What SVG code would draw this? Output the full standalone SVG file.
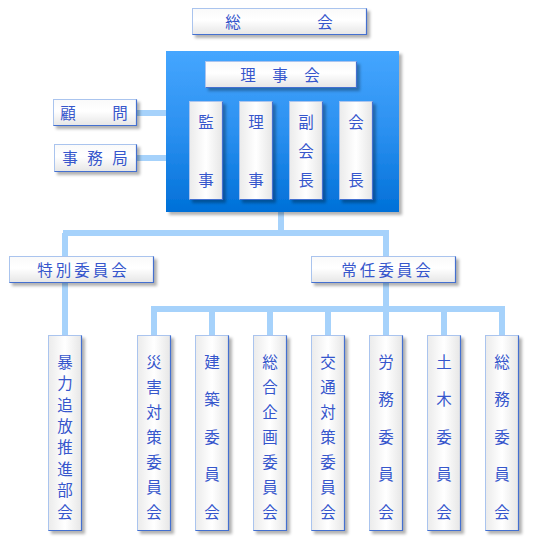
<svg xmlns="http://www.w3.org/2000/svg" width="540" height="540" viewBox="0 0 540 540">
<style>
.bx{fill:url(#gh);stroke:#aac4ee;stroke-width:1}
.bv{fill:url(#gv);stroke:#aac4ee;stroke-width:1}
.ed{fill:none;stroke:#4470d0;stroke-width:1.2}
.t{font-family:"Noto Sans CJK JP","Noto Sans",sans-serif;font-size:15.5px;fill:#3656cc}
.tc{text-anchor:middle}
.ln{fill:none;stroke:#a6d2fb;stroke-width:6}
</style>
<defs>
<linearGradient id="gh" x1="0" y1="0" x2="0" y2="1">
<stop offset="0" stop-color="#fafafa"/>
<stop offset="0.45" stop-color="#ffffff"/>
<stop offset="1" stop-color="#e6e6e6"/>
</linearGradient>
<linearGradient id="gv" x1="0" y1="0" x2="1" y2="0">
<stop offset="0" stop-color="#ebebeb"/>
<stop offset="0.5" stop-color="#ffffff"/>
<stop offset="1" stop-color="#e6e6e6"/>
</linearGradient>
<linearGradient id="gb" x1="0" y1="0" x2="0" y2="1">
<stop offset="0" stop-color="#45a6ff"/>
<stop offset="0.5" stop-color="#2b90f0"/>
<stop offset="1" stop-color="#0070d8"/>
</linearGradient>
<filter id="sh" x="-20%" y="-20%" width="150%" height="150%">
<feDropShadow dx="3" dy="3" stdDeviation="1.8" flood-color="#000" flood-opacity="0.3"/>
</filter>
</defs>

<g id="connectors">
<path class="ln" d="M137 113H170M137 158H170"/>
<path class="ln" d="M281 210V233M63 233H389M65 233V336M386 233V309M151 309H505M154 309V336M212 309V336M270 309V336M328 309V336M386 309V336M444 309V336M502 309V336"/>
</g>

<g id="soukai">
<rect class="bx" x="192.5" y="8.5" width="174" height="26" filter="url(#sh)"/>
<path class="ed" d="M366.5 8.5V34.5H192.5"/>
<text class="t tc" y="27.5"><tspan x="233">総</tspan><tspan x="325">会</tspan></text>
</g>

<g id="rijikai-panel">
<rect x="166" y="51" width="233" height="161" fill="url(#gb)" filter="url(#sh)"/>
</g>

<g id="rijikai">
<rect class="bx" x="205.5" y="61.5" width="151" height="26" filter="url(#sh)"/>
<path class="ed" d="M356.5 61.5V87.5H205.5"/>
<text class="t tc" y="80.5"><tspan x="248">理</tspan><tspan x="280">事</tspan><tspan x="312">会</tspan></text>
</g>

<g id="kanji">
<rect class="bv" x="189.5" y="101.5" width="33" height="98" filter="url(#sh)"/>
<path class="ed" d="M222.5 101.5V199.5H189.5"/>
<text class="t tc" x="206"><tspan y="127.5">監</tspan><tspan x="206" y="185.5">事</tspan></text>
</g>
<g id="riji">
<rect class="bv" x="239.5" y="101.5" width="33" height="98" filter="url(#sh)"/>
<path class="ed" d="M272.5 101.5V199.5H239.5"/>
<text class="t tc" x="256"><tspan y="127.5">理</tspan><tspan x="256" y="185.5">事</tspan></text>
</g>
<g id="fukukaicho">
<rect class="bv" x="289.5" y="101.5" width="33" height="98" filter="url(#sh)"/>
<path class="ed" d="M322.5 101.5V199.5H289.5"/>
<text class="t tc" x="306"><tspan y="127.5">副</tspan><tspan x="306" y="157">会</tspan><tspan x="306" y="185.5">長</tspan></text>
</g>
<g id="kaicho">
<rect class="bv" x="339.5" y="101.5" width="33" height="98" filter="url(#sh)"/>
<path class="ed" d="M372.5 101.5V199.5H339.5"/>
<text class="t tc" x="356"><tspan y="127.5">会</tspan><tspan x="356" y="185.5">長</tspan></text>
</g>

<g id="komon">
<rect class="bx" x="53.5" y="99.5" width="83" height="26" filter="url(#sh)"/>
<path class="ed" d="M136.5 99.5V125.5H53.5"/>
<text class="t tc" y="118.5"><tspan x="68">顧</tspan><tspan x="120">問</tspan></text>
</g>
<g id="jimukyoku">
<rect class="bx" x="54.5" y="144.5" width="82" height="27" filter="url(#sh)"/>
<path class="ed" d="M136.5 144.5V171.5H54.5"/>
<text class="t tc" y="163.5"><tspan x="70">事</tspan><tspan x="95">務</tspan><tspan x="120">局</tspan></text>
</g>

<g id="tokubetsu">
<rect class="bx" x="9.5" y="256.5" width="144" height="26" filter="url(#sh)"/>
<path class="ed" d="M153.5 256.5V282.5H9.5"/>
<text class="t tc" y="276"><tspan x="45">特</tspan><tspan x="63.5">別</tspan><tspan x="82">委</tspan><tspan x="100.5">員</tspan><tspan x="119">会</tspan></text>
</g>
<g id="jonin">
<rect class="bx" x="311.5" y="256.5" width="144" height="26" filter="url(#sh)"/>
<path class="ed" d="M455.5 256.5V282.5H311.5"/>
<text class="t tc" y="276"><tspan x="349">常</tspan><tspan x="367.5">任</tspan><tspan x="386">委</tspan><tspan x="404.5">員</tspan><tspan x="423">会</tspan></text>
</g>

<g id="boryoku">
<rect class="bv" x="48.5" y="335.5" width="33" height="195" filter="url(#sh)"/>
<path class="ed" d="M81.5 335.5V530.5H48.5"/>
<text class="t tc"><tspan x="65" y="367.5">暴</tspan><tspan x="65" y="389">力</tspan><tspan x="65" y="410.5">追</tspan><tspan x="65" y="432">放</tspan><tspan x="65" y="453">推</tspan><tspan x="65" y="474.5">進</tspan><tspan x="65" y="496">部</tspan><tspan x="65" y="517.5">会</tspan></text>
</g>

<g id="saigai">
<rect class="bv" x="137.5" y="335.5" width="33" height="195" filter="url(#sh)"/>
<path class="ed" d="M170.5 335.5V530.5H137.5"/>
<text class="t tc"><tspan x="154" y="367.5">災</tspan><tspan x="154" y="392.5">害</tspan><tspan x="154" y="417.5">対</tspan><tspan x="154" y="442.5">策</tspan><tspan x="154" y="467.5">委</tspan><tspan x="154" y="492.5">員</tspan><tspan x="154" y="517.5">会</tspan></text>
</g>
<g id="kenchiku">
<rect class="bv" x="195.5" y="335.5" width="33" height="195" filter="url(#sh)"/>
<path class="ed" d="M228.5 335.5V530.5H195.5"/>
<text class="t tc"><tspan x="212" y="367.5">建</tspan><tspan x="212" y="405">築</tspan><tspan x="212" y="442.5">委</tspan><tspan x="212" y="480">員</tspan><tspan x="212" y="517.5">会</tspan></text>
</g>
<g id="sogokikaku">
<rect class="bv" x="253.5" y="335.5" width="33" height="195" filter="url(#sh)"/>
<path class="ed" d="M286.5 335.5V530.5H253.5"/>
<text class="t tc"><tspan x="270" y="367.5">総</tspan><tspan x="270" y="392.5">合</tspan><tspan x="270" y="417.5">企</tspan><tspan x="270" y="442.5">画</tspan><tspan x="270" y="467.5">委</tspan><tspan x="270" y="492.5">員</tspan><tspan x="270" y="517.5">会</tspan></text>
</g>
<g id="kotsu">
<rect class="bv" x="311.5" y="335.5" width="33" height="195" filter="url(#sh)"/>
<path class="ed" d="M344.5 335.5V530.5H311.5"/>
<text class="t tc"><tspan x="328" y="367.5">交</tspan><tspan x="328" y="392.5">通</tspan><tspan x="328" y="417.5">対</tspan><tspan x="328" y="442.5">策</tspan><tspan x="328" y="467.5">委</tspan><tspan x="328" y="492.5">員</tspan><tspan x="328" y="517.5">会</tspan></text>
</g>
<g id="romu">
<rect class="bv" x="369.5" y="335.5" width="33" height="195" filter="url(#sh)"/>
<path class="ed" d="M402.5 335.5V530.5H369.5"/>
<text class="t tc"><tspan x="386" y="367.5">労</tspan><tspan x="386" y="405">務</tspan><tspan x="386" y="442.5">委</tspan><tspan x="386" y="480">員</tspan><tspan x="386" y="517.5">会</tspan></text>
</g>
<g id="doboku">
<rect class="bv" x="427.5" y="335.5" width="33" height="195" filter="url(#sh)"/>
<path class="ed" d="M460.5 335.5V530.5H427.5"/>
<text class="t tc"><tspan x="444" y="367.5">土</tspan><tspan x="444" y="405">木</tspan><tspan x="444" y="442.5">委</tspan><tspan x="444" y="480">員</tspan><tspan x="444" y="517.5">会</tspan></text>
</g>
<g id="somu">
<rect class="bv" x="485.5" y="335.5" width="33" height="195" filter="url(#sh)"/>
<path class="ed" d="M518.5 335.5V530.5H485.5"/>
<text class="t tc"><tspan x="502" y="367.5">総</tspan><tspan x="502" y="405">務</tspan><tspan x="502" y="442.5">委</tspan><tspan x="502" y="480">員</tspan><tspan x="502" y="517.5">会</tspan></text>
</g>
</svg>
